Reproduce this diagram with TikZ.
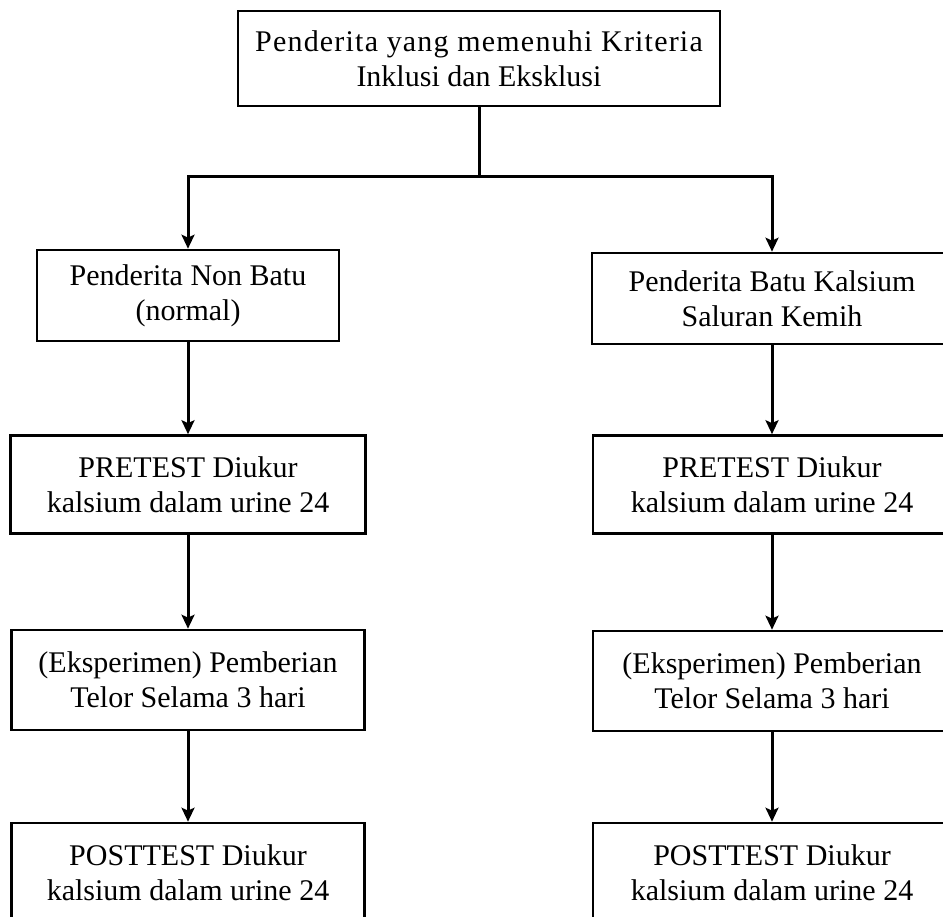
\documentclass[tikz,border=0pt]{standalone}
\usepackage{fontspec}
\setmainfont{Liberation Serif}
\usetikzlibrary{arrows.meta,positioning}

\begin{document}
\begin{tikzpicture}[>={Stealth[length=14pt,width=13pt,inset=3pt]}, x=1pt, y=-1pt,
  box/.style={draw, line width=2.6pt, align=center, inner sep=0pt,
    font=\fontsize{30}{35}\selectfont},
  flow/.style={->, line width=3pt}]
\useasboundingbox (0,0) rectangle (943,917);
% top
\node[box, minimum width=482pt, minimum height=95pt] (incl) at (479,58.5)
  {{\addfontfeature{LetterSpace=4}Penderita yang memenuhi Kriteria}\\Inklusi dan Eksklusi};
\coordinate (split) at (479,177);
% left column
\node[box, minimum width=302pt, minimum height=91pt] (nonbatu) at (188,295.5)
  {Penderita Non Batu\\(normal)};
\node[box, minimum width=355pt, minimum height=98pt] (preL) at (188,484.5)
  {PRETEST Diukur\\kalsium dalam urine 24};
\node[box, minimum width=353pt, minimum height=100pt] (eksL) at (188,680)
  {(Eksperimen) Pemberian\\Telor Selama 3 hari};
\node[box, minimum width=353pt, minimum height=100pt] (postL) at (188,873)
  {POSTTEST Diukur\\kalsium dalam urine 24};
% right column
\node[box, minimum width=360pt, minimum height=91pt] (batu) at (772,298.5)
  {Penderita Batu Kalsium\\Saluran Kemih};
\node[box, minimum width=358pt, minimum height=98pt] (preR) at (772,484.5)
  {PRETEST Diukur\\kalsium dalam urine 24};
\node[box, minimum width=358pt, minimum height=100pt] (eksR) at (772,681)
  {(Eksperimen) Pemberian\\Telor Selama 3 hari};
\node[box, minimum width=358pt, minimum height=100pt] (postR) at (772,873)
  {POSTTEST Diukur\\kalsium dalam urine 24};
% connectors
\draw[line width=3pt] (incl.south) -- (split);
\draw[flow] (split) -| (nonbatu.north);
\draw[flow] (split) -| (batu.north);
\draw[flow] (nonbatu) -- (preL);
\draw[flow] (preL) -- (eksL);
\draw[flow] (eksL) -- (postL);
\draw[flow] (batu) -- (preR);
\draw[flow] (preR) -- (eksR);
\draw[flow] (eksR) -- (postR);
\end{tikzpicture}
\end{document}
